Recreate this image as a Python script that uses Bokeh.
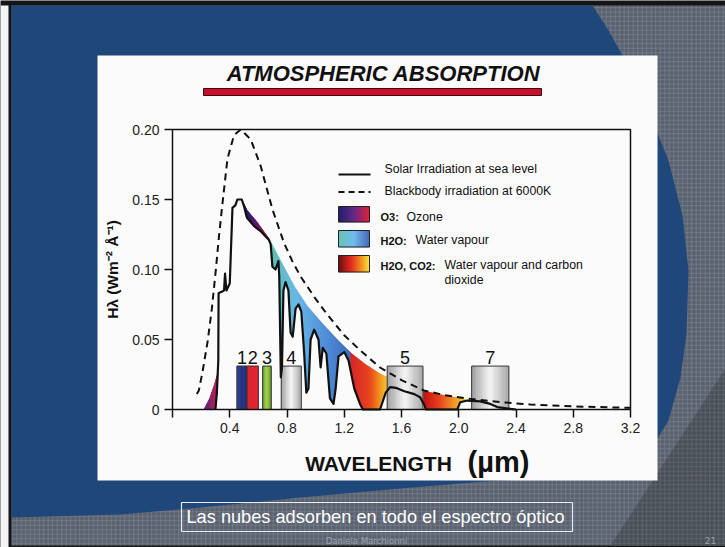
import numpy as np
from bokeh.plotting import figure
from bokeh.models import (Range1d, FixedTicker, BoxAnnotation, PolyAnnotation, Label,
                          ColumnDataSource, NumeralTickFormatter)
from bokeh.embed import file_html
from bokeh.resources import INLINE

# ---------------- data ----------------
x_ticks = [0.0, 0.4, 0.8, 1.2, 1.6, 2.0, 2.4, 2.8, 3.2]
y_ticks = [0.0, 0.05, 0.10, 0.15, 0.20]
x_limits = [0.0, 3.2]
y_limits = [0.0, 0.2]

blackbody_wl = [0.17, 0.184, 0.21, 0.246, 0.275, 0.302, 0.325, 0.35, 0.384, 0.43, 0.477, 0.546,
                0.616, 0.698, 0.779, 0.837, 0.895, 1.0, 1.08, 1.2, 1.314, 1.45, 1.6, 1.756, 1.9,
                2.08, 2.3, 2.5, 2.8, 3.2]
blackbody_irr = [0.011, 0.0136, 0.027, 0.049, 0.072, 0.099, 0.124, 0.148, 0.179, 0.196, 0.200,
                 0.193, 0.174, 0.143, 0.119, 0.106, 0.095, 0.079, 0.068, 0.053, 0.042, 0.030,
                 0.021, 0.0136, 0.0103, 0.0076, 0.0052, 0.0036, 0.0022, 0.0012]

solar_wl = [0.300, 0.310, 0.320, 0.322, 0.340, 0.360, 0.367, 0.377, 0.400, 0.419,
            0.440, 0.453, 0.484, 0.500, 0.520, 0.570, 0.620, 0.674, 0.686, 0.698,
            0.720, 0.740, 0.746, 0.757, 0.765, 0.775, 0.790, 0.810, 0.825, 0.840,
            0.860, 0.880, 0.900, 0.920, 0.935, 0.950, 0.965, 0.990, 1.020, 1.035,
            1.050, 1.075, 1.100, 1.125, 1.140, 1.160, 1.200, 1.230, 1.270, 1.310,
            1.330, 1.450, 1.490, 1.520, 1.560, 1.620, 1.690, 1.730, 1.760, 1.770,
            1.990, 2.010, 2.060, 2.150, 2.220, 2.270, 2.360, 2.400]
solar_irr = [0.000, 0.012, 0.035, 0.083, 0.084, 0.085, 0.097, 0.085, 0.090, 0.144,
             0.146, 0.150, 0.150, 0.145, 0.137, 0.131, 0.127, 0.121, 0.118, 0.102,
             0.100, 0.106, 0.095, 0.023, 0.030, 0.085, 0.091, 0.085, 0.055, 0.052,
             0.072, 0.075, 0.070, 0.040, 0.012, 0.015, 0.050, 0.057, 0.050, 0.030,
             0.044, 0.040, 0.008, 0.004, 0.015, 0.038, 0.041, 0.035, 0.015, 0.004,
             0.000, 0.000, 0.012, 0.016, 0.0155, 0.013, 0.011, 0.0088, 0.003, 0.000,
             0.000, 0.0052, 0.0064, 0.0058, 0.004, 0.0017, 0.0005, 0.000]

# upper edge of the absorbed (coloured) areas
top_wl = [0.49, 0.52, 0.59, 0.65, 0.674, 0.756, 0.85, 0.94, 1.05, 1.15, 1.25, 1.35, 1.45,
          1.55, 1.65, 1.78, 1.9, 2.03, 2.06]
top_irr = [0.149, 0.1425, 0.134, 0.1255, 0.122, 0.106, 0.088, 0.074, 0.061, 0.050, 0.040,
           0.032, 0.0255, 0.0205, 0.0168, 0.0126, 0.0100, 0.0078, 0.0066]
uv_edge_wl = [0.22, 0.26, 0.29, 0.316]
uv_edge_irr = [0.0, 0.008, 0.017, 0.026]

ozone_band = [0.50, 0.674]
uv_band = [0.22, 0.316]
water_band = [0.674, 1.245]
co2_bands = [[1.245, 1.50], [1.75, 2.06]]

band_labels = ["1", "2", "3", "4", "5", "7"]
band_start = [0.45, 0.52, 0.63, 0.76, 1.50, 2.09]
band_end = [0.52, 0.60, 0.69, 0.90, 1.75, 2.35]
band_top = 0.031

# ---------------- layout helpers (pixel -> data) ----------------
W, H = 725, 547
FL, FR, FT, FB = 172, 630, 129, 409
XPX = (FR - FL) / 3.2
YPX = (FB - FT) / 0.2


def px2x(px):
    return (px - FL) / XPX


def py2y(py):
    return (FB - py) / YPX


def hex2rgb(h):
    return tuple(int(h[i:i + 2], 16) for i in (1, 3, 5))


def grad(stops, t):
    for (t0, c0), (t1, c1) in zip(stops[:-1], stops[1:]):
        if t <= t1:
            f = (t - t0) / (t1 - t0) if t1 > t0 else 0.0
            a, b = hex2rgb(c0), hex2rgb(c1)
            return "#%02x%02x%02x" % tuple(int(round(a[i] + (b[i] - a[i]) * f)) for i in range(3))
    return stops[-1][1]


sw = np.array(solar_wl)
si = np.array(solar_irr)


def region_strips(x0, x1, up_w, up_i, stops):
    n = max(int(round((x1 - x0) * XPX)), 1)
    edges = np.linspace(x0, x1, n + 1)
    xs, ys, cs = [], [], []
    for k in range(n):
        a, b = edges[k], edges[k + 1]
        inner = sorted(set([w for w in up_w if a < w < b] + [w for w in solar_wl if a < w < b]))
        px_ = [a] + inner + [b]
        top = np.interp(px_, up_w, up_i)
        bot = np.minimum(np.interp(px_, sw, si, left=0.0, right=0.0), top)
        xs.append(list(px_) + list(px_[::-1]))
        ys.append(list(top) + list(bot[::-1]))
        cs.append(grad(stops, (k + 0.5) / n))
    return xs, ys, cs


def hstrips(x0, x1, y0, y1, stops, n):
    e = np.linspace(x0, x1, n + 1)
    return dict(l=list(e[:-1]), r=list(e[1:]), b=[y0] * n, t=[y1] * n,
                c=[grad(stops, (k + 0.5) / n) for k in range(n)])


FONT = "Liberation Sans"

p = figure(width=W, height=H, x_range=Range1d(px2x(0), px2x(W)),
           y_range=Range1d(py2y(H), py2y(0)),
           output_backend="svg", toolbar_location=None,
           min_border_left=0, min_border_right=0, min_border_top=0, min_border_bottom=0)
p.border_fill_color = "white"
p.background_fill_color = "#5b626d"
p.outline_line_color = None
p.grid.visible = False

# ---------------- slide background ----------------
def box(l, r, t, b, **kw):
    a = BoxAnnotation(left=px2x(l), right=px2x(r), top=py2y(t), bottom=py2y(b),
                      level="underlay", **kw)
    p.add_layout(a)
    return a


def poly(pts, **kw):
    a = PolyAnnotation(xs=[px2x(x) for x, y in pts], ys=[py2y(y) for x, y in pts],
                       level="underlay", **kw)
    p.add_layout(a)
    return a


box(0, W, 0, H, fill_color="#151515", fill_alpha=1, line_alpha=0)
box(0, 8, 5, H, fill_color="#f4f4f4", fill_alpha=1, line_alpha=0)
box(11, W, 5, H - 2, fill_color="#5b626d", fill_alpha=1, line_alpha=0,
    hatch_pattern="+", hatch_color="#8089a0", hatch_scale=4.5, hatch_weight=0.7, hatch_alpha=0.7)
poly([(725, 368), (725, 545), (610, 545)], fill_color="#4b5058", fill_alpha=1, line_alpha=0,
     hatch_pattern="+", hatch_color="#6a707a", hatch_scale=4.5, hatch_weight=0.7, hatch_alpha=0.7)
blue_pts = [(11, 5), (592, 5), (608, 30), (625, 60), (648, 110), (668, 160), (682, 215),
            (688, 270), (686, 333), (680, 377), (668, 420), (650, 450), (620, 468), (560, 477),
            (484, 481), (400, 488), (300, 497), (200, 507), (120, 514), (11, 517)]
poly(blue_pts, fill_color="#1f477a", fill_alpha=1, line_alpha=0)
box(97, 657, 55, 480, fill_color="#fbfbfb", fill_alpha=1, line_alpha=0)

# title + red bar
p.add_layout(Label(x=px2x(383), y=py2y(73), text="ATMOSPHERIC ABSORPTION", text_align="center",
                   text_baseline="middle", text_font=FONT, text_font_style="bold italic",
                   text_font_size="22px", text_color="#111111"))
box(203, 541, 88, 95, fill_color="#c8102e", fill_alpha=1, line_color="#40060c", line_width=1,
    line_alpha=1)

# caption and footer
box(181, 572, 502, 531, fill_alpha=0, line_color="#e8ecf2", line_width=1.2, line_alpha=1)
p.add_layout(Label(x=px2x(186), y=py2y(516.5), text="Las nubes adsorben en todo el espectro óptico",
                   text_baseline="middle", text_font=FONT, text_font_size="18.2px",
                   text_color="white"))
p.add_layout(Label(x=px2x(366), y=py2y(540), text="Daniela Marchionni", text_align="center",
                   text_baseline="middle", text_font="DejaVu Sans", text_font_size="8.5px",
                   text_color="#9aa1ab"))
p.add_layout(Label(x=px2x(710), y=py2y(540), text="21", text_align="center",
                   text_baseline="middle", text_font="DejaVu Sans", text_font_size="9px",
                   text_color="#9aa1ab"))

# x-axis label
p.add_layout(Label(x=px2x(378), y=py2y(463), text="WAVELENGTH", text_align="center",
                   text_baseline="middle", text_font=FONT, text_font_style="bold",
                   text_font_size="21px", text_color="#111111"))
p.add_layout(Label(x=px2x(498), y=py2y(461), text="(µm)", text_align="center",
                   text_baseline="middle", text_font=FONT, text_font_style="bold",
                   text_font_size="29px", text_color="#111111"))

# ---------------- coloured absorption areas ----------------
ozone_stops = [(0, "#1d1b66"), (0.5, "#5a1a6e"), (1, "#a8183e")]
uv_stops = [(0, "#4a2380"), (1, "#c41a4c")]
water_stops = [(0, "#5fbfae"), (0.35, "#66b6e6"), (0.7, "#4a8ad6"), (1, "#3566bb")]
co2_stops_a = [(0, "#d41c1c"), (0.5, "#e8401c"), (0.8, "#f29020"), (1, "#f6c42a")]
co2_stops_b = [(0, "#c01414"), (0.35, "#e63a1c"), (0.7, "#f2921f"), (1, "#f8d22c")]

XS, YS, CS = [], [], []
for (x0, x1), uw, ui, st in [(uv_band, uv_edge_wl, uv_edge_irr, uv_stops),
                             (ozone_band, top_wl, top_irr, ozone_stops),
                             (water_band, top_wl, top_irr, water_stops),
                             (co2_bands[0], top_wl, top_irr, co2_stops_a),
                             (co2_bands[1], top_wl, top_irr, co2_stops_b)]:
    a, b, c = region_strips(x0, x1, uw, ui, st)
    XS += a
    YS += b
    CS += c
p.patches(xs="xs", ys="ys", fill_color="c", line_color="c", line_width=0.6,
          source=ColumnDataSource(dict(xs=XS, ys=YS, c=CS)))

# ---------------- satellite bands ----------------
gray_stops = [(0, "#9c9c9c"), (0.5, "#f6f6f6"), (1, "#a6a6a6")]
band_styles = [[(0, "#2b3a92"), (0.45, "#25338a"), (0.5, "#0f1648"), (0.55, "#25338a"), (1, "#1c2672")],
               [(0, "#d91a28"), (1, "#e3202c")],
               [(0, "#5f9424"), (0.5, "#a4d44c"), (1, "#5f9424")],
               gray_stops, gray_stops, gray_stops]
for s, e, st in zip(band_start, band_end, band_styles):
    d = hstrips(s, e, 0, band_top, st, 16)
    p.quad(left="l", right="r", bottom="b", top="t", fill_color="c", line_color="c",
           line_width=0.5, source=ColumnDataSource(d))
p.quad(left=band_start, right=band_end, bottom=[0] * 6, top=[band_top] * 6,
       fill_alpha=0, line_color="#3a3a3a", line_width=1)
for lab, s, e in zip(band_labels, band_start, band_end):
    p.add_layout(Label(x=(s + e) / 2, y=band_top + 0.0012, text=lab, text_align="center",
                       text_baseline="bottom", text_font=FONT, text_font_size="18px",
                       text_color="#111111"))

# ---------------- curves ----------------
p.line(blackbody_wl, blackbody_irr, line_color="#111111", line_width=2, line_dash="7 5")
p.line(solar_wl, solar_irr, line_color="#111111", line_width=2.2, line_join="round")

# plot box (top and right edges)
p.line([x_limits[0], x_limits[1], x_limits[1]], [y_limits[1], y_limits[1], y_limits[0]],
       line_color="#111111", line_width=1.5)

# ---------------- legend ----------------
lx0, lx1 = px2x(338), px2x(369)
p.line([lx0, px2x(370)], [py2y(174)] * 2, line_color="#111111", line_width=2)
p.line([lx0, px2x(370)], [py2y(191.5)] * 2, line_color="#111111", line_width=2, line_dash="6 4")
leg_boxes = [(py2y(221.5), py2y(206), [(0, "#101060"), (0.5, "#5a1a80"), (1, "#e0102a")]),
             (py2y(246.5), py2y(230), [(0, "#5dbfb0"), (0.5, "#68b8ec"), (1, "#3a5fb5")]),
             (py2y(271.5), py2y(255), [(0, "#5a0000"), (0.4, "#e01a10"), (0.7, "#f07a10"), (1, "#f8e030")])]
for b0, t0, st in leg_boxes:
    p.quad(left="l", right="r", bottom="b", top="t", fill_color="c", line_color="c",
           line_width=0.5, source=ColumnDataSource(hstrips(lx0, lx1, b0, t0, st, 31)))
    p.quad(left=[lx0], right=[lx1], bottom=[b0], top=[t0], fill_alpha=0,
           line_color="#222222", line_width=1)


def ltext(xp, yp, txt, bold=False, size="12.3px"):
    p.add_layout(Label(x=px2x(xp), y=py2y(yp), text=txt, text_baseline="middle",
                       text_font=FONT, text_font_size=size, text_color="#111111",
                       text_font_style="bold" if bold else "normal"))


ltext(384, 168.5, "Solar Irradiation at sea level")
ltext(384, 190, "Blackbody irradiation at 6000K")
ltext(380, 216.5, "O3:", bold=True, size="11px")
ltext(406, 216.5, "Ozone")
ltext(380, 240, "H2O:", bold=True, size="11px")
ltext(415, 239.5, "Water vapour")
ltext(380, 265, "H2O, CO2:", bold=True, size="11px")
ltext(444, 264.5, "Water vapour and carbon")
ltext(444, 279, "dioxide")

# ---------------- axes (crossing at the origin) ----------------
for ax in (p.xaxis[0], p.yaxis[0]):
    ax.fixed_location = 0
    ax.axis_line_width = 1.5
    ax.axis_line_color = "#111111"
    ax.major_tick_line_width = 1.5
    ax.major_tick_line_color = "#111111"
    ax.major_tick_in = 0
    ax.major_tick_out = 8
    ax.minor_tick_line_color = None
    ax.major_label_text_font = FONT
    ax.major_label_text_font_size = "14px"
    ax.major_label_text_color = "#222222"
    ax.major_label_standoff = 5

p.xaxis.bounds = (x_limits[0], x_limits[1])
p.yaxis.bounds = (y_limits[0], y_limits[1])
p.xaxis.ticker = FixedTicker(ticks=x_ticks)
p.xaxis.formatter = NumeralTickFormatter(format="0.0")
p.xaxis.major_label_overrides = {0: ""}
p.yaxis.ticker = FixedTicker(ticks=y_ticks)
p.yaxis.formatter = NumeralTickFormatter(format="0.00")
p.yaxis.major_label_overrides = {0: "0"}
p.yaxis.axis_label = "Hλ (Wm⁻² Å⁻¹)"
p.yaxis.axis_label_text_font = FONT
p.yaxis.axis_label_text_font_style = "bold"
p.yaxis.axis_label_text_font_size = "15.5px"
p.yaxis.axis_label_text_color = "#111111"
p.yaxis.axis_label_standoff = 8

open("out.html", "w").write(file_html(p, INLINE))
